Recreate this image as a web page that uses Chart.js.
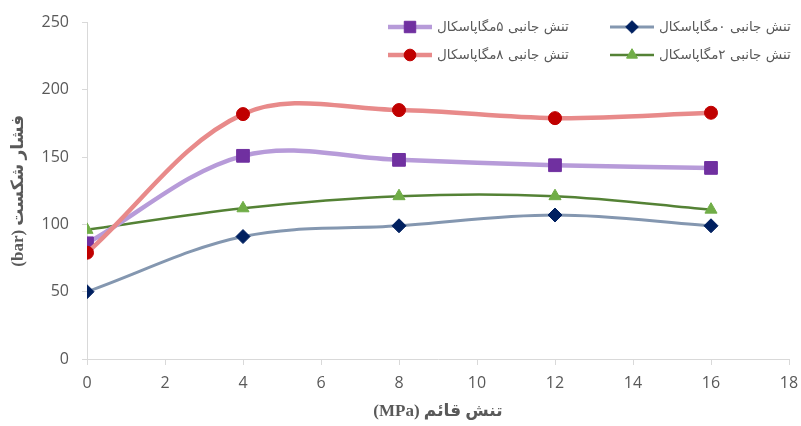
<!DOCTYPE html>
<html>
<head>
<meta charset="utf-8">
<script src="https://cdn.jsdelivr.net/npm/chart.js@4.4.0/dist/chart.umd.min.js"></script>
<style>
  html, body { margin: 0; padding: 0; background: #fff; }
  #wrap { width: 801px; height: 426px; }
  canvas { direction: rtl; }
</style>
</head>
<body>
<div id="wrap"><canvas id="canvas1"></canvas></div>
<script>
// x values (MPa)
var xVals = [0, 4, 8, 12, 16];
// series: lateral stress 0, 2, 5, 8 MPa
var labels = ['تنش جانبی ۰مگاپاسکال', 'تنش جانبی ۲مگاپاسکال', 'تنش جانبی ۵مگاپاسکال', 'تنش جانبی ۸مگاپاسکال'];
var s0 = [50, 91, 99, 107, 99];
var s2 = [96, 112, 121, 121, 111];
var s5 = [86, 151, 148, 144, 142];
var s8 = [79, 182, 185, 179, 183];
var yTicks = [0, 50, 100, 150, 200, 250];
var xTicks = [0, 2, 4, 6, 8, 10, 12, 14, 16, 18];

var xTitle = 'تنش قائم (MPa)';
var yTitle = 'فشار شکست (bar)';

function pts(arr) {
  return arr.map(function (v, i) { return { x: xVals[i], y: v }; });
}

var styles = [
  { line: '#8497b0', width: 3, fill: '#002060', style: 'rectRot', r: 7, order: 3 },
  { line: '#548235', width: 2.5, fill: '#70ad47', style: 'triangle', r: 7, order: 2 },
  { line: '#b79bd9', width: 4.5, fill: '#7030a0', style: 'rect', r: 9, order: 1 },
  { line: '#e88a8a', width: 4.5, fill: '#c00000', style: 'circle', r: 6.5, order: 0 }
];
var seriesData = [s0, s2, s5, s8];

var datasets = seriesData.map(function (d, i) {
  var st = styles[i];
  return {
    label: labels[i],
    data: pts(d),
    borderColor: st.line,
    borderWidth: st.width,
    backgroundColor: st.fill,
    pointBackgroundColor: st.fill,
    pointBorderColor: st.fill,
    pointBorderWidth: 1,
    pointStyle: st.style,
    pointRadius: st.r,
    tension: 0.35,
    order: st.order
  };
});

// legend drawn at the top right, two columns, right to left
var legendPlugin = {
  id: 'customLegend',
  afterDraw: function (chart) {
    var ctx = chart.ctx;
    // [dataset index, sample left, y]
    var spots = [[2, 388, 27], [0, 610, 27], [3, 388, 55], [1, 610, 55]];
    ctx.save();
    spots.forEach(function (s) {
      var ds = chart.data.datasets[s[0]];
      var st = styles[s[0]];
      ctx.strokeStyle = st.line;
      ctx.lineWidth = st.width;
      ctx.beginPath();
      ctx.moveTo(s[1], s[2]);
      ctx.lineTo(s[1] + 44, s[2]);
      ctx.stroke();
      ctx.fillStyle = st.fill;
      ctx.strokeStyle = st.fill;
      ctx.lineWidth = 1;
      Chart.helpers.drawPoint(ctx, { pointStyle: st.style, radius: st.r * 0.9, borderWidth: 1 }, s[1] + 22, s[2]);
      ctx.fillStyle = '#595959';
      ctx.font = '13.5px "DejaVu Sans", sans-serif';
      ctx.textAlign = 'left';
      ctx.textBaseline = 'middle';
      ctx.direction = 'rtl';
      ctx.fillText(ds.label, s[1] + 49, s[2]);
    });
    ctx.restore();
  }
};

var tickFont = { family: '"Open Sans", "DejaVu Sans", sans-serif', size: 16 };
var titleFont = { family: '"Liberation Serif", "DejaVu Sans", serif', size: 17, weight: 'bold' };

new Chart(document.getElementById('canvas1'), {
  type: 'line',
  data: { datasets: datasets },
  options: {
    responsive: true,
    maintainAspectRatio: false,
    animation: false,
    layout: { padding: { top: 20, right: 0, left: 0, bottom: 0 } },
    plugins: { legend: { display: false }, tooltip: { enabled: false } },
    scales: {
      x: {
        type: 'linear',
        min: 0, max: 18,
        afterBuildTicks: function (scale) { scale.ticks = xTicks.map(function (v) { return { value: v }; }); },
        afterFit: function (scale) {
          scale.height = 67;
          scale.paddingRight = 12;
          scale.paddingLeft = 0;
        },
        grid: { drawOnChartArea: false, color: '#d9d9d9', tickLength: 6 },
        border: { color: '#d9d9d9' },
        ticks: { color: '#595959', font: tickFont, padding: 9, maxRotation: 0 },
        title: { display: true, text: xTitle, color: '#595959', font: titleFont, padding: { top: 0 } }
      },
      y: {
        min: 0, max: 250,
        afterBuildTicks: function (scale) { scale.ticks = yTicks.map(function (v) { return { value: v }; }); },
        afterFit: function (scale) { scale.width = 87; },
        grid: { drawOnChartArea: false, color: '#d9d9d9', tickLength: 5 },
        border: { color: '#d9d9d9' },
        ticks: { color: '#595959', font: tickFont, padding: 13 },
        title: { display: true, text: yTitle, color: '#595959', font: titleFont, padding: { top: 8, bottom: 10 } }
      }
    }
  },
  plugins: [legendPlugin]
});
</script>
</body>
</html>
